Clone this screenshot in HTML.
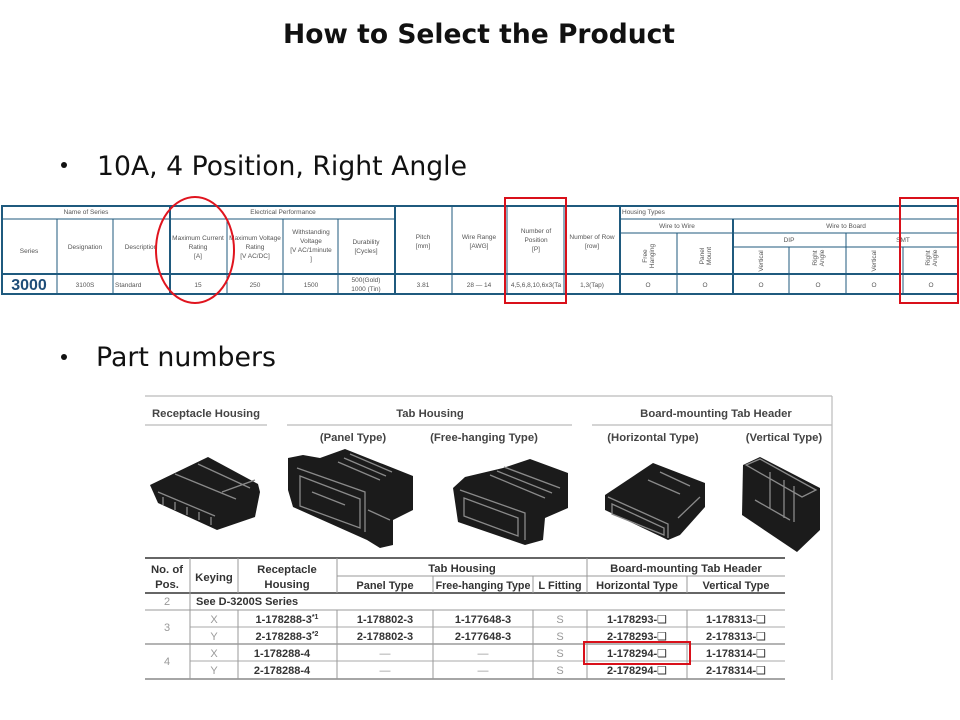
<!DOCTYPE html>
<html><head><meta charset="utf-8"><style>
html,body{margin:0;padding:0;background:#fff;}
svg{display:block;}
.t{font-family:"Liberation Sans",sans-serif;font-size:6.5px;fill:#555;text-anchor:middle;}
.h{font-family:"Liberation Sans",sans-serif;font-weight:bold;font-size:11.3px;fill:#444;text-anchor:middle;}
.d{font-family:"Liberation Sans","DejaVu Sans",sans-serif;font-weight:bold;font-size:11px;fill:#333;text-anchor:middle;}
.g{font-family:"Liberation Sans",sans-serif;font-size:11px;fill:#999;text-anchor:middle;}
</style></head><body>
<svg width="960" height="720" viewBox="0 0 960 720" xmlns="http://www.w3.org/2000/svg">
<rect width="960" height="720" fill="#fff"/>
<!-- Title -->
<text x="283" y="43" font-family="DejaVu Sans, sans-serif" font-weight="bold" font-size="26.5" fill="#111" textLength="392" lengthAdjust="spacingAndGlyphs">How to Select the Product</text>
<!-- Bullets -->
<circle cx="64" cy="165" r="3" fill="#111"/>
<text x="97" y="175" font-family="DejaVu Sans, sans-serif" font-size="26.5" fill="#111" textLength="370" lengthAdjust="spacingAndGlyphs">10A, 4 Position, Right Angle</text>
<circle cx="64" cy="357" r="3" fill="#111"/>
<text x="96" y="366" font-family="DejaVu Sans, sans-serif" font-size="26.5" fill="#111" textLength="180" lengthAdjust="spacingAndGlyphs">Part numbers</text>

<!-- Top table -->
<g stroke="#1f5a7e" fill="none">
  <rect x="2" y="206" width="956" height="88" stroke-width="2"/>
  <line x1="2" y1="219" x2="395" y2="219" stroke-width="1"/>
  <line x1="620" y1="219" x2="958" y2="219" stroke-width="1"/>
  <line x1="620" y1="233" x2="958" y2="233" stroke-width="1"/>
  <line x1="733" y1="247" x2="958" y2="247" stroke-width="1"/>
  <line x1="2" y1="274" x2="958" y2="274" stroke-width="2"/>
  <line x1="170" y1="206" x2="170" y2="294" stroke-width="2"/>
  <line x1="395" y1="206" x2="395" y2="294" stroke-width="2"/>
  <line x1="452" y1="206" x2="452" y2="294" stroke-width="1"/>
  <line x1="507" y1="206" x2="507" y2="294" stroke-width="1"/>
  <line x1="564" y1="206" x2="564" y2="294" stroke-width="1"/>
  <line x1="620" y1="206" x2="620" y2="294" stroke-width="2"/>
  <line x1="57" y1="219" x2="57" y2="294" stroke-width="1"/>
  <line x1="113" y1="219" x2="113" y2="294" stroke-width="1"/>
  <line x1="227" y1="219" x2="227" y2="294" stroke-width="1"/>
  <line x1="283" y1="219" x2="283" y2="294" stroke-width="1"/>
  <line x1="338" y1="219" x2="338" y2="294" stroke-width="1"/>
  <line x1="733" y1="219" x2="733" y2="294" stroke-width="2"/>
  <line x1="677" y1="233" x2="677" y2="294" stroke-width="1"/>
  <line x1="846" y1="233" x2="846" y2="294" stroke-width="1"/>
  <line x1="789" y1="247" x2="789" y2="294" stroke-width="1"/>
  <line x1="903" y1="247" x2="903" y2="294" stroke-width="1"/>
</g>
<g class="t">
  <text x="86" y="214">Name of Series</text>
  <text x="283" y="214">Electrical Performance</text>
  <text x="622" y="214" style="text-anchor:start">Housing Types</text>
  <text x="29" y="253">Series</text>
  <text x="85" y="249">Designation</text>
  <text x="141" y="249">Description</text>
  <text x="198" y="240">Maximum Current</text>
  <text x="198" y="249">Rating</text>
  <text x="198" y="258">[A]</text>
  <text x="255" y="240">Maximum Voltage</text>
  <text x="255" y="249">Rating</text>
  <text x="255" y="258">[V AC/DC]</text>
  <text x="311" y="234">Withstanding</text>
  <text x="311" y="243">Voltage</text>
  <text x="311" y="252">[V AC/1minute</text>
  <text x="311" y="261">]</text>
  <text x="366" y="244">Durability</text>
  <text x="366" y="253">[Cycles]</text>
  <text x="423" y="239">Pitch</text>
  <text x="423" y="248">[mm]</text>
  <text x="479" y="239">Wire Range</text>
  <text x="479" y="248">[AWG]</text>
  <text x="536" y="233">Number of</text>
  <text x="536" y="242">Position</text>
  <text x="536" y="251">[P]</text>
  <text x="592" y="239">Number of Row</text>
  <text x="592" y="248">[row]</text>
  <text x="677" y="228">Wire to Wire</text>
  <text x="846" y="228">Wire to Board</text>
  <text x="789" y="242">DIP</text>
  <text x="903" y="242">SMT</text>
  <g transform="translate(648,256) rotate(-90)"><text x="0" y="-1">Free</text><text x="0" y="6">Hanging</text></g>
  <g transform="translate(705,256) rotate(-90)"><text x="0" y="-1">Panel</text><text x="0" y="6">Mount</text></g>
  <g transform="translate(761,261) rotate(-90)"><text x="0" y="2">Vertical</text></g>
  <g transform="translate(818,258) rotate(-90)"><text x="0" y="-1">Right</text><text x="0" y="6">Angle</text></g>
  <g transform="translate(874,261) rotate(-90)"><text x="0" y="2">Vertical</text></g>
  <g transform="translate(931,258) rotate(-90)"><text x="0" y="-1">Right</text><text x="0" y="6">Angle</text></g>
  <text x="85" y="287">3100S</text>
  <text x="115" y="287" style="text-anchor:start">Standard</text>
  <text x="198" y="287">15</text>
  <text x="255" y="287">250</text>
  <text x="311" y="287">1500</text>
  <text x="366" y="282">500(Gold)</text>
  <text x="366" y="291">1000 (Tin)</text>
  <text x="423" y="287">3.81</text>
  <text x="479" y="287">28 — 14</text>
  <text x="536" y="287">4,5,6,8,10,6x3(Ta</text>
  <text x="592" y="287">1,3(Tap)</text>
  <text x="648" y="287">O</text>
  <text x="705" y="287">O</text>
  <text x="761" y="287">O</text>
  <text x="818" y="287">O</text>
  <text x="874" y="287">O</text>
  <text x="931" y="287">O</text>
</g>
<text x="29" y="290" font-family="Liberation Sans, sans-serif" font-weight="bold" font-size="16" fill="#1f4e79" text-anchor="middle">3000</text>

<!-- Red highlights top -->
<ellipse cx="195" cy="250" rx="39" ry="53" fill="none" stroke="#e0141e" stroke-width="2"/>
<rect x="505" y="198" width="61" height="105" fill="none" stroke="#d9101a" stroke-width="2"/>
<rect x="900" y="198" width="58" height="105" fill="none" stroke="#d9101a" stroke-width="2"/>

<!-- Bottom image frame -->
<g stroke="#bbb" fill="none" stroke-width="1.2">
  <line x1="145" y1="396" x2="832" y2="396"/>
  <line x1="832" y1="396" x2="832" y2="680"/>
  <line x1="145" y1="425" x2="267" y2="425"/>
  <line x1="287" y1="425" x2="572" y2="425"/>
  <line x1="592" y1="425" x2="832" y2="425"/>
</g>
<g class="h">
  <text x="152" y="417" style="text-anchor:start">Receptacle Housing</text>
  <text x="430" y="417">Tab Housing</text>
  <text x="716" y="417">Board-mounting Tab Header</text>
  <text x="353" y="441">(Panel Type)</text>
  <text x="484" y="441">(Free-hanging Type)</text>
  <text x="653" y="441">(Horizontal Type)</text>
  <text x="784" y="441">(Vertical Type)</text>
</g>

<!-- Product drawings -->
<g fill="#1b1b1b" stroke="none">
  <polygon points="150,485 208,457 258,484 260,492 255,517 217,530 158,503"/>
  <polygon points="288,458 303,455 320,458 345,449 413,476 413,510 393,520 393,545 380,548 367,540 293,507 288,490"/>
  <polygon points="453,488 465,477 503,468 530,459 568,473 568,508 545,518 543,540 525,545 458,522"/>
  <polygon points="605,495 653,463 705,483 705,507 680,535 668,540 605,510"/>
  <polygon points="743,465 760,457 820,488 820,530 797,552 742,515"/>
</g>
<g stroke="#8a8a8a" fill="none" stroke-width="1.3">
  <path d="M158,492 L215,516 M175,474 L236,499 M198,464 L250,488 M163,497 L163,505 M175,502 L175,510 M187,507 L187,515 M199,512 L199,520 M211,517 L211,525 M222,492 L255,480"/>
  <path d="M297,468 L365,492 L365,532 M300,476 L360,499 L360,528 L300,506 Z M338,462 L380,480 M344,458 L386,476 M350,454 L392,472 M368,510 L390,520 M312,492 L345,505"/>
  <path d="M460,490 L525,513 L525,540 M464,498 L518,518 L518,536 L464,516 Z M490,475 L545,498 M497,471 L552,493 M504,467 L560,488"/>
  <path d="M608,497 L668,524 L668,538 M612,504 L664,528 L664,535 L612,514 Z M660,472 L690,486 M648,480 L680,494 M678,518 L700,497"/>
  <path d="M746,465 L760,459 L816,490 L802,497 Z M770,472 L770,508 M784,480 L784,518 M794,486 L794,522 M755,500 L790,520"/>
</g>

<!-- Bottom table -->
<g stroke="#666" fill="none">
  <line x1="145" y1="558" x2="785" y2="558" stroke-width="2"/>
  <line x1="337" y1="576" x2="785" y2="576" stroke-width="1" stroke="#999"/>
  <line x1="145" y1="593" x2="785" y2="593" stroke-width="2"/>
  <line x1="145" y1="610" x2="785" y2="610" stroke-width="1" stroke="#999"/>
  <line x1="190" y1="627" x2="785" y2="627" stroke-width="1" stroke="#aaa"/>
  <line x1="145" y1="644" x2="785" y2="644" stroke-width="1.3" stroke="#888"/>
  <line x1="190" y1="661" x2="785" y2="661" stroke-width="1" stroke="#aaa"/>
  <line x1="145" y1="679" x2="785" y2="679" stroke-width="1.5" stroke="#888"/>
  <g stroke="#999" stroke-width="1">
    <line x1="190" y1="558" x2="190" y2="679"/>
    <line x1="238" y1="558" x2="238" y2="593"/>
    <line x1="238" y1="610" x2="238" y2="679"/>
    <line x1="337" y1="558" x2="337" y2="593"/>
    <line x1="337" y1="610" x2="337" y2="679"/>
    <line x1="433" y1="576" x2="433" y2="593"/>
    <line x1="433" y1="610" x2="433" y2="679"/>
    <line x1="533" y1="576" x2="533" y2="593"/>
    <line x1="533" y1="610" x2="533" y2="679"/>
    <line x1="587" y1="558" x2="587" y2="593"/>
    <line x1="587" y1="610" x2="587" y2="679"/>
    <line x1="687" y1="576" x2="687" y2="593"/>
    <line x1="687" y1="610" x2="687" y2="679"/>
  </g>
</g>
<g class="h" style="fill:#333">
  <text x="167" y="573">No. of</text>
  <text x="167" y="588">Pos.</text>
  <text x="214" y="581">Keying</text>
  <text x="287" y="573">Receptacle</text>
  <text x="287" y="588">Housing</text>
  <text x="462" y="572">Tab Housing</text>
  <text x="686" y="572">Board-mounting Tab Header</text>
  <text x="385" y="589" style="font-size:11px">Panel Type</text>
  <text x="483" y="589" style="font-size:10.7px">Free-hanging Type</text>
  <text x="560" y="589" style="font-size:11px">L Fitting</text>
  <text x="637" y="589" style="font-size:11px">Horizontal Type</text>
  <text x="736" y="589" style="font-size:11px">Vertical Type</text>
</g>
<g class="g">
  <text x="167" y="605">2</text>
  <text x="167" y="631">3</text>
  <text x="167" y="665">4</text>
  <text x="214" y="623">X</text>
  <text x="214" y="640">Y</text>
  <text x="214" y="657">X</text>
  <text x="214" y="674">Y</text>
  <text x="560" y="623">S</text>
  <text x="560" y="640">S</text>
  <text x="560" y="657">S</text>
  <text x="560" y="674">S</text>
  <text x="385" y="657">—</text>
  <text x="483" y="657">—</text>
  <text x="385" y="674">—</text>
  <text x="483" y="674">—</text>
</g>
<g class="d">
  <text x="196" y="605" style="text-anchor:start">See D-3200S Series</text>
  <text x="287" y="623">1-178288-3<tspan font-size="7" dy="-4">*1</tspan></text>
  <text x="287" y="640">2-178288-3<tspan font-size="7" dy="-4">*2</tspan></text>
  <text x="282" y="657">1-178288-4</text>
  <text x="282" y="674">2-178288-4</text>
  <text x="385" y="623">1-178802-3</text>
  <text x="385" y="640">2-178802-3</text>
  <text x="483" y="623">1-177648-3</text>
  <text x="483" y="640">2-177648-3</text>
  <text x="637" y="623">1-178293-❑</text>
  <text x="637" y="640">2-178293-❑</text>
  <text x="637" y="657">1-178294-❑</text>
  <text x="637" y="674">2-178294-❑</text>
  <text x="736" y="623">1-178313-❑</text>
  <text x="736" y="640">2-178313-❑</text>
  <text x="736" y="657">1-178314-❑</text>
  <text x="736" y="674">2-178314-❑</text>
</g>
<rect x="584" y="642" width="106" height="22" fill="none" stroke="#d9101a" stroke-width="2"/>
</svg>
</body></html>
